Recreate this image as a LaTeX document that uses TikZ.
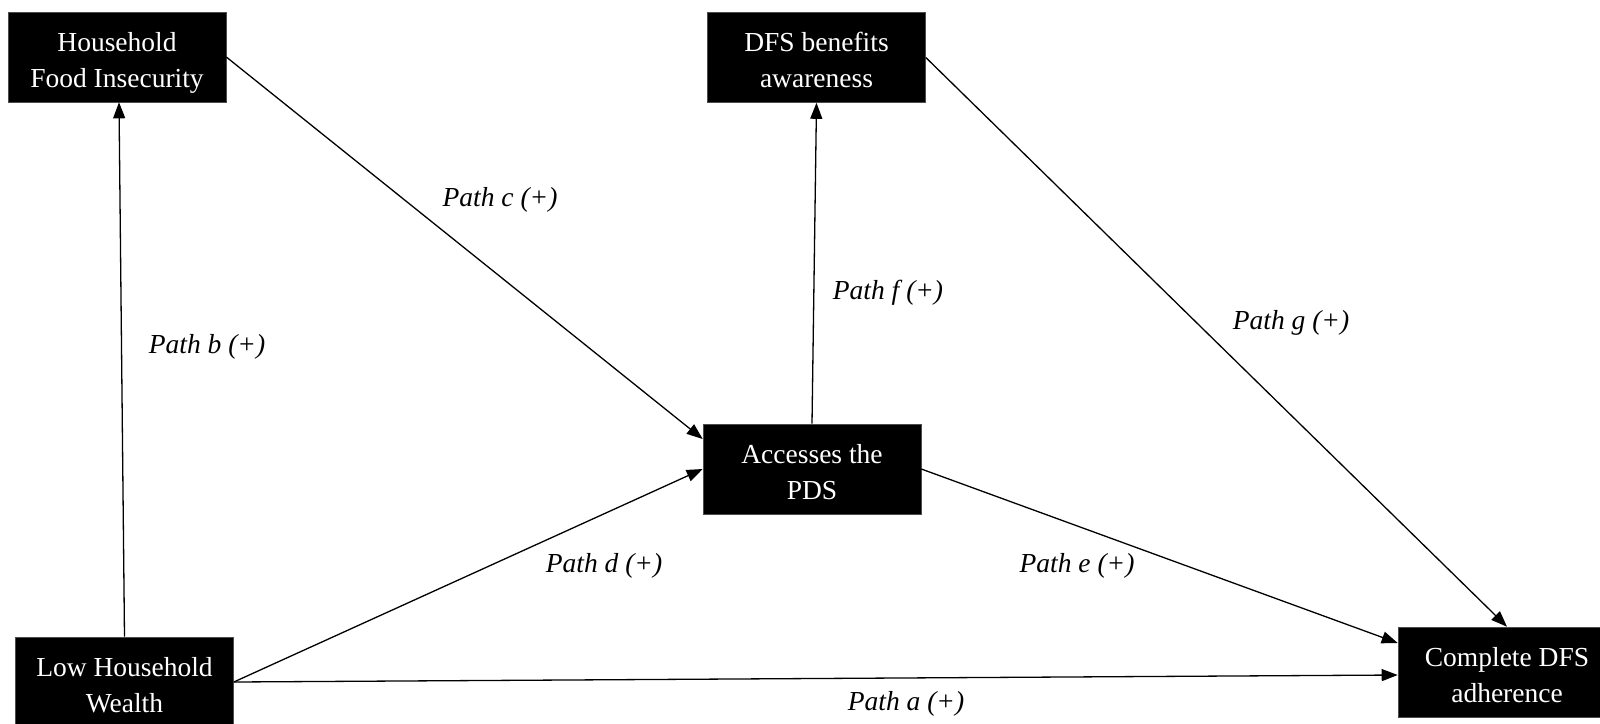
\documentclass[tikz,border=0pt]{standalone}
\usepackage{fontspec}
\setmainfont{Liberation Serif}
\usetikzlibrary{arrows.meta,calc}
% box labels: two centred lines, set a little below the box's middle
\newcommand{\boxtext}[1]{\raisebox{-5pt}[\height][\depth]{\begin{tabular}{@{}c@{}}#1\end{tabular}}}
\begin{document}
\begin{tikzpicture}[x=1pt,y=-1pt,
  varbox/.style={fill=black,draw=black!70,line width=0.6pt,text=white,
    minimum width=218pt,minimum height=90pt,inner sep=0pt,
    font={\fontsize{27.5}{36}\selectfont}},
  link/.style={line width=1.3pt,-{Triangle[length=16pt,width=12pt]}},
  pathlabel/.style={font={\fontsize{27.5}{33}\selectfont\itshape},inner sep=0pt}]
\useasboundingbox (0,0) rectangle (1600,723);
\clip (0,0) rectangle (1600,723);

% variables
\node[varbox] (hfi)  at (117,57)   {\boxtext{Household\\Food Insecurity}};
\node[varbox] (dfs)  at (816.5,57.5) {\boxtext{DFS benefits\\awareness}};
\node[varbox] (pds)  at (812,469)  {\boxtext{Accesses the\\PDS}};
\node[varbox] (lhw)  at (124.5,682) {\boxtext{Low Household\\Wealth}};
\node[varbox] (cdfs) at (1507,672) {\boxtext{Complete DFS\\adherence}};

% paths
\draw[link] (lhw.north) -- ([xshift=2pt]hfi.south);
\draw[link] (hfi.east) -- ([yshift=30pt]pds.west);
\draw[link] (pds.north) -- (dfs.south);
\draw[link] (dfs.east) -- (cdfs.north);
\draw[link] (lhw.east) -- (pds.west);
\draw[link] (pds.east) -- ([yshift=29pt]cdfs.west);
\draw[link] (lhw.east) -- ([yshift=-3pt]cdfs.west);

% path labels
\node[pathlabel] (la) at (906,704) {Path a (+)};
\node[pathlabel] (lb) at (207,347) {Path b (+)};
\node[pathlabel] (lc) at (500,200) {Path c (+)};
\node[pathlabel] (ld) at (604,566) {Path d (+)};
\node[pathlabel] (le) at (1077,566) {Path e (+)};
\node[pathlabel] (lf) at (888,293) {Path f (+)};
\node[pathlabel] (lg) at (1291,323) {Path g (+)};
\end{tikzpicture}
\end{document}
